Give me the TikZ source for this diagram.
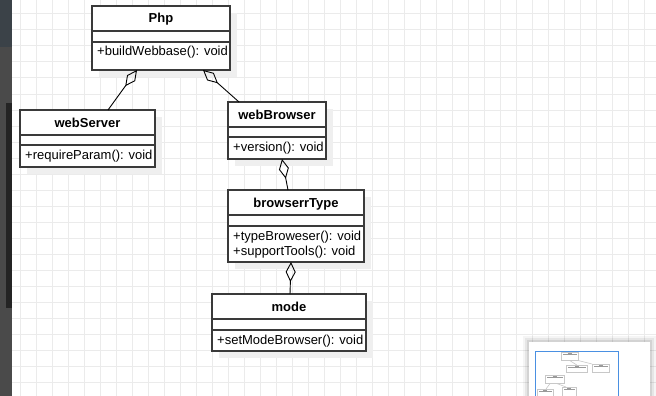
\documentclass[tikz,border=0pt]{standalone}
\usepackage{fontspec}
\setmainfont{Liberation Sans}
\usetikzlibrary{arrows.meta,calc}

\definecolor{gridline}{HTML}{EBEBEB}
\definecolor{shadowgray}{HTML}{EFEFEF}
\definecolor{boxline}{HTML}{3A3A3A}
\definecolor{sidebar}{HTML}{4A4A4A}
\definecolor{sidebartop}{HTML}{3B4248}
\definecolor{sidestrip}{HTML}{242424}
\definecolor{mapblue}{HTML}{4A90E2}
\definecolor{mapbox}{HTML}{C8C8C8}
\definecolor{maptext}{HTML}{9A9A9A}

\tikzset{
  classbox/.style={draw=boxline, line width=1.2pt, fill=white, rectangle,
    inner sep=0pt, outer sep=0pt, anchor=north west},
  divider/.style={draw=boxline, line width=1.2pt},
  classname/.style={font=\fontsize{13}{15}\selectfont\bfseries, inner sep=0pt, anchor=base},
  member/.style={font=\fontsize{13}{15}\selectfont, inner sep=0pt, anchor=base west},
  aggregation/.style={draw=black, line width=0.9pt,
    {Diamond[open, length=20pt, width=10pt, line width=0.9pt]}-},
  minibox/.style={draw=mapbox, line width=0.6pt, fill=white},
  minitext/.style={draw=maptext, line width=1pt},
}

% UML class frame: name, left, top, right, bottom, first divider, second divider
\newcommand{\umlclass}[7]{%
  \fill[shadowgray] (#2+7,#3+7) rectangle (#4+7,#5+7);
  \node[classbox, minimum width={(#4)-(#2)}, minimum height={(#5)-(#3)}] (#1) at (#2,#3) {};
  \draw[divider] (#2,#6) -- (#4,#6);
  \draw[divider] (#2,#7) -- (#4,#7);
}

\begin{document}
\begin{tikzpicture}[x=1pt, y=-1pt]
\useasboundingbox (0,0) rectangle (656,396);
\clip (0,0) rectangle (656,396);

% canvas grid
\fill[white] (0,0) rectangle (656,396);
\foreach \gx in {20,36,...,660} \draw[gridline, line width=1pt] (\gx,0) -- (\gx,396);
\foreach \gy in {14,30,...,400} \draw[gridline, line width=1pt] (12,\gy) -- (656,\gy);

% left side panel
\fill[sidebar] (0,0) rectangle (12,396);
\fill[sidebartop] (0,0) rectangle (12,47);
\fill[sidestrip] (6,103) rectangle (12,308);

% classes
\umlclass{php}{92}{6}{230}{70}{31}{42}
\node[classname] (php-name) at (161,23) {Php};
\node[member] (php-m1) at (97,56) {+buildWebbase(): void};

\umlclass{server}{20}{110}{155}{167}{135}{145}
\node[classname] (server-name) at (87.5,127) {webServer};
\node[member] (server-m1) at (25,159) {+requireParam(): void};

\umlclass{browser}{228}{102}{326}{159}{127}{137}
\node[classname] (browser-name) at (277,119) {webBrowser};
\node[member] (browser-m1) at (233,151) {+version(): void};

\umlclass{btype}{228}{190}{364}{262}{215}{226}
\node[classname] (btype-name) at (296,207) {browserrType};
\node[member] (btype-m1) at (233,240) {+typeBroweser(): void};
\node[member] (btype-m2) at (233,255.5) {+supportTools(): void};

\umlclass{mode}{212}{294}{366}{351}{319}{330}
\node[classname] (mode-name) at (289,311) {mode};
\node[member] (mode-m1) at (217,344) {+setModeBrowser(): void};

% aggregations
\draw[aggregation] ($(php.south west)+(45,0)$) -- ($(server.north west)+(88,0)$);
\draw[aggregation] ($(php.south west)+(111,0)$) -- ($(browser.north west)+(11,0)$);
\draw[aggregation] ($(browser.south west)+(54,0)$) -- ($(btype.north west)+(60,0)$);
\draw[aggregation] ($(btype.south west)+(63,0)$) -- ($(mode.north west)+(78,0)$);

% overview panel
\foreach \s/\o in {6/0.04,4/0.06,2/0.08}
  \fill[black, opacity=\o] (529-\s,342-\s) rectangle (650+\s,400);
\fill[white] (529,342) rectangle (650,400);
\draw[mapblue, line width=1pt] (535.5,351.5) rectangle (618.5,410);

\node[minibox, minimum width=17pt, minimum height=8pt, inner sep=0pt, anchor=north west] (ma) at (561,352) {};
\node[minibox, minimum width=21pt, minimum height=7pt, inner sep=0pt, anchor=north west] (mb) at (566,365) {};
\node[minibox, minimum width=17pt, minimum height=8pt, inner sep=0pt, anchor=north west] (mc) at (592,364) {};
\node[minibox, minimum width=19pt, minimum height=8pt, inner sep=0pt, anchor=north west] (md) at (545,375) {};
\node[minibox, minimum width=16pt, minimum height=9pt, inner sep=0pt, anchor=north west] (me) at (537,389) {};
\node[minibox, minimum width=14pt, minimum height=11pt, inner sep=0pt, anchor=north west] (mf) at (562,387) {};
\draw[mapbox, line width=0.6pt] (ma.south) -- (mb.north);
\draw[mapbox, line width=0.6pt] (ma.south east) -- (mc.north west);
\draw[mapbox, line width=0.6pt] ($(md.south west)+(5,0)$) -- ($(me.north west)+(9,0)$);
\draw[mapbox, line width=0.6pt] ($(md.south west)+(12,0)$) -- ($(mf.north west)+(4,0)$);
\foreach \m in {ma,mb,mc,md,me,mf} {
  \draw[minitext] ($(\m.north west)+(2,2.5)$) -- ($(\m.north east)+(-2,2.5)$);
  \draw[minitext, line width=0.6pt] ($(\m.north)+(-2,-0.0)$) ++(0,1.2) -- ++(4,0);
}
\end{tikzpicture}
\end{document}
